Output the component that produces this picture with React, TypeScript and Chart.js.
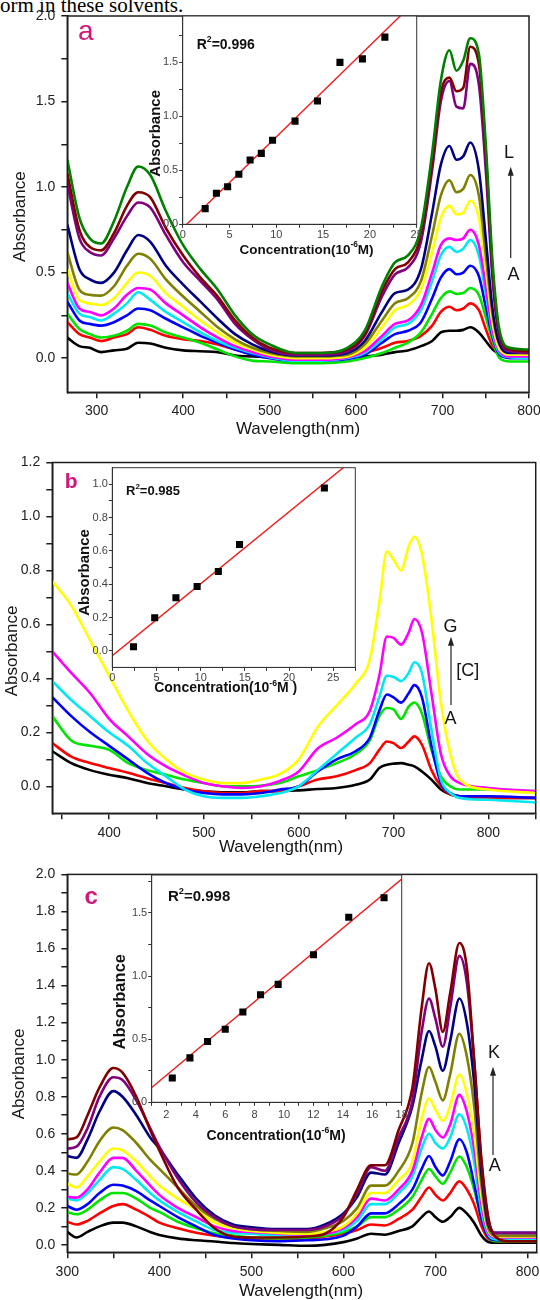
import React, { useEffect, useRef } from "react";
import { Chart, registerables } from "chart.js";

Chart.register(...registerables);

const FONT = "'Liberation Sans', Arial, Helvetica, sans-serif";
Chart.defaults.font.family = FONT;

// ---------------- Panel a : spectra (A..L) ----------------
const wlA = [266, 280, 292, 305, 320, 335, 348, 362, 380, 400, 420, 440, 460, 480, 500, 530, 560, 590, 610, 630, 645, 660, 675, 688, 698, 708, 716, 724, 732, 742, 750, 758, 766, 778, 800];
const a_A = [0.12, 0.07, 0.06, 0.035, 0.045, 0.055, 0.09, 0.085, 0.06, 0.045, 0.04, 0.035, 0.015, 0.01, 0.005, 0.0, 0.0, 0.005, 0.01, 0.02, 0.035, 0.045, 0.07, 0.1, 0.15, 0.16, 0.16, 0.165, 0.18, 0.15, 0.1, 0.05, 0.025, 0.015, 0.015];
const a_B = [0.21, 0.14, 0.12, 0.1, 0.12, 0.14, 0.18, 0.165, 0.13, 0.11, 0.1, 0.08, 0.05, 0.03, 0.015, 0.005, 0.005, 0.015, 0.03, 0.06, 0.09, 0.1, 0.13, 0.19, 0.27, 0.3, 0.28, 0.29, 0.32, 0.28, 0.17, 0.07, 0.03, 0.015, 0.01];
const a_C = [0.26, 0.17, 0.14, 0.12, 0.13, 0.16, 0.2, 0.19, 0.15, 0.12, 0.09, 0.05, 0.01, -0.015, -0.02, -0.03, -0.03, -0.02, 0.0, 0.03, 0.06, 0.09, 0.15, 0.26, 0.35, 0.39, 0.375, 0.38, 0.41, 0.37, 0.24, 0.1, 0.0, -0.02, -0.02];
const a_D = [0.33, 0.22, 0.2, 0.19, 0.21, 0.25, 0.29, 0.28, 0.23, 0.18, 0.13, 0.09, 0.05, 0.02, 0.0, -0.015, -0.015, -0.005, 0.02, 0.09, 0.14, 0.16, 0.21, 0.35, 0.47, 0.52, 0.49, 0.5, 0.54, 0.48, 0.3, 0.12, 0.02, 0.0, 0.0];
const a_E = [0.38, 0.26, 0.24, 0.22, 0.26, 0.32, 0.385, 0.34, 0.27, 0.21, 0.15, 0.1, 0.06, 0.03, 0.005, -0.015, -0.015, 0.0, 0.03, 0.11, 0.18, 0.2, 0.28, 0.45, 0.6, 0.65, 0.62, 0.64, 0.69, 0.6, 0.38, 0.14, 0.03, 0.005, 0.0];
const a_F = [0.44, 0.29, 0.27, 0.25, 0.29, 0.37, 0.41, 0.4, 0.32, 0.25, 0.18, 0.12, 0.07, 0.035, 0.01, -0.01, -0.01, 0.005, 0.04, 0.13, 0.2, 0.22, 0.31, 0.5, 0.66, 0.7, 0.69, 0.7, 0.75, 0.66, 0.42, 0.16, 0.04, 0.01, 0.01];
const a_G = [0.52, 0.34, 0.32, 0.31, 0.35, 0.44, 0.5, 0.48, 0.38, 0.3, 0.22, 0.15, 0.09, 0.05, 0.02, 0.0, 0.0, 0.01, 0.06, 0.18, 0.28, 0.31, 0.4, 0.62, 0.82, 0.89, 0.84, 0.85, 0.92, 0.82, 0.52, 0.2, 0.05, 0.02, 0.02];
const a_H = [0.62, 0.4, 0.37, 0.365, 0.42, 0.54, 0.61, 0.58, 0.46, 0.36, 0.27, 0.18, 0.11, 0.06, 0.03, 0.01, 0.01, 0.02, 0.08, 0.22, 0.32, 0.35, 0.45, 0.72, 0.95, 1.04, 0.97, 0.99, 1.07, 0.95, 0.6, 0.25, 0.08, 0.05, 0.04];
const a_I = [0.78, 0.52, 0.46, 0.44, 0.5, 0.63, 0.72, 0.68, 0.54, 0.43, 0.33, 0.23, 0.14, 0.08, 0.04, 0.015, 0.015, 0.03, 0.1, 0.27, 0.38, 0.4, 0.52, 0.85, 1.13, 1.24, 1.16, 1.18, 1.26, 1.1, 0.7, 0.28, 0.08, 0.03, 0.03];
const a_J = [1.02, 0.7, 0.62, 0.6, 0.7, 0.83, 0.91, 0.88, 0.72, 0.56, 0.45, 0.34, 0.2, 0.11, 0.05, 0.02, 0.02, 0.04, 0.13, 0.36, 0.49, 0.53, 0.68, 1.1, 1.5, 1.62, 1.47, 1.46, 1.72, 1.6, 1.1, 0.45, 0.12, 0.04, 0.03];
const a_K = [1.08, 0.75, 0.65, 0.63, 0.73, 0.89, 0.97, 0.94, 0.76, 0.6, 0.47, 0.36, 0.22, 0.12, 0.06, 0.03, 0.03, 0.05, 0.14, 0.39, 0.52, 0.56, 0.72, 1.15, 1.55, 1.64, 1.56, 1.58, 1.82, 1.72, 1.2, 0.5, 0.14, 0.05, 0.04];
const a_L = [1.16, 0.82, 0.7, 0.67, 0.8, 1.0, 1.12, 1.07, 0.86, 0.66, 0.52, 0.4, 0.25, 0.14, 0.08, 0.03, 0.03, 0.06, 0.16, 0.42, 0.56, 0.6, 0.76, 1.2, 1.62, 1.8, 1.68, 1.74, 1.87, 1.78, 1.25, 0.55, 0.16, 0.06, 0.05];

// ---------------- Panel b : spectra (A..G) ----------------
const wlB = [340, 360, 380, 400, 420, 440, 460, 480, 500, 520, 540, 560, 580, 600, 620, 640, 660, 675, 685, 693, 700, 708, 716, 722, 730, 740, 750, 760, 770, 800, 850];
const b_A = [0.13, 0.086, 0.06, 0.043, 0.03, 0.012, 0.0, -0.012, -0.018, -0.022, -0.022, -0.018, -0.018, -0.015, -0.01, -0.006, 0.006, 0.025, 0.068, 0.08, 0.084, 0.086, 0.08, 0.074, 0.055, 0.025, -0.012, -0.03, -0.037, -0.043, -0.043];
const b_B = [0.16, 0.11, 0.086, 0.068, 0.05, 0.03, 0.012, -0.006, -0.018, -0.025, -0.025, -0.018, -0.018, 0.0, 0.025, 0.037, 0.06, 0.086, 0.135, 0.166, 0.16, 0.142, 0.166, 0.185, 0.154, 0.06, 0.0, -0.03, -0.037, -0.043, -0.043];
const b_C = [0.26, 0.17, 0.15, 0.135, 0.086, 0.06, 0.043, 0.025, 0.012, 0.0, 0.0, 0.002, 0.012, 0.037, 0.06, 0.086, 0.12, 0.17, 0.26, 0.29, 0.285, 0.25, 0.295, 0.31, 0.27, 0.135, 0.037, 0.0, -0.012, -0.012, -0.018];
const b_D = [0.33, 0.26, 0.2, 0.15, 0.1, 0.05, 0.012, -0.012, -0.025, -0.03, -0.03, -0.025, -0.012, 0.0, 0.055, 0.1, 0.13, 0.18, 0.28, 0.34, 0.33, 0.31, 0.345, 0.375, 0.33, 0.15, 0.012, -0.025, -0.037, -0.037, -0.043];
const b_E = [0.39, 0.32, 0.26, 0.2, 0.15, 0.086, 0.037, -0.012, -0.037, -0.043, -0.043, -0.037, -0.025, 0.0, 0.06, 0.12, 0.18, 0.23, 0.33, 0.41, 0.405, 0.39, 0.42, 0.46, 0.42, 0.21, 0.025, -0.025, -0.043, -0.05, -0.06];
const b_F = [0.5, 0.42, 0.345, 0.25, 0.185, 0.12, 0.074, 0.04, 0.012, 0.0, -0.006, 0.0, 0.02, 0.055, 0.14, 0.18, 0.23, 0.28, 0.41, 0.555, 0.55, 0.525, 0.57, 0.62, 0.57, 0.345, 0.12, 0.037, 0.012, -0.006, -0.018];
const b_G = [0.76, 0.67, 0.54, 0.41, 0.28, 0.17, 0.1, 0.05, 0.025, 0.012, 0.012, 0.025, 0.045, 0.1, 0.22, 0.3, 0.38, 0.47, 0.68, 0.87, 0.84, 0.8, 0.89, 0.925, 0.86, 0.62, 0.31, 0.12, 0.025, -0.012, -0.025];

// ---------------- Panel c : spectra (A..K) ----------------
const wlC = [300, 310, 322, 335, 350, 360, 375, 390, 400, 420, 440, 460, 480, 500, 530, 560, 580, 600, 615, 630, 645, 660, 675, 685, 693, 700, 708, 716, 726, 734, 742, 750, 758, 766, 780, 810];
const c_A = [0.07, 0.04, 0.07, 0.1, 0.12, 0.12, 0.1, 0.07, 0.054, 0.035, 0.025, 0.018, 0.01, 0.005, 0.0, -0.005, 0.0, 0.015, 0.035, 0.06, 0.055, 0.075, 0.1, 0.15, 0.18, 0.15, 0.125, 0.15, 0.2, 0.17, 0.12, 0.05, 0.015, 0.012, 0.012, 0.012];
const c_B = [0.125, 0.11, 0.13, 0.17, 0.21, 0.22, 0.19, 0.15, 0.12, 0.09, 0.066, 0.05, 0.04, 0.035, 0.03, 0.03, 0.045, 0.06, 0.08, 0.11, 0.105, 0.14, 0.19, 0.26, 0.31, 0.27, 0.24, 0.28, 0.343, 0.3, 0.22, 0.1, 0.03, 0.02, 0.02, 0.02];
const c_C = [0.178, 0.165, 0.19, 0.24, 0.28, 0.28, 0.25, 0.2, 0.178, 0.125, 0.09, 0.063, 0.05, 0.04, 0.035, 0.04, 0.05, 0.07, 0.1, 0.15, 0.15, 0.19, 0.26, 0.35, 0.41, 0.37, 0.33, 0.39, 0.477, 0.42, 0.3, 0.14, 0.04, 0.02, 0.02, 0.02];
const c_D = [0.21, 0.19, 0.22, 0.28, 0.325, 0.32, 0.29, 0.24, 0.21, 0.15, 0.1, 0.053, 0.035, 0.025, 0.02, 0.025, 0.03, 0.05, 0.1, 0.17, 0.17, 0.22, 0.3, 0.41, 0.48, 0.42, 0.375, 0.45, 0.57, 0.5, 0.33, 0.14, 0.04, 0.025, 0.025, 0.025];
const c_E = [0.25, 0.24, 0.28, 0.35, 0.42, 0.41, 0.35, 0.28, 0.24, 0.178, 0.127, 0.08, 0.065, 0.06, 0.05, 0.05, 0.06, 0.08, 0.13, 0.22, 0.22, 0.28, 0.37, 0.52, 0.6, 0.55, 0.52, 0.58, 0.705, 0.63, 0.45, 0.18, 0.05, 0.03, 0.03, 0.03];
const c_F = [0.26, 0.255, 0.3, 0.39, 0.47, 0.47, 0.4, 0.32, 0.27, 0.2, 0.15, 0.1, 0.075, 0.07, 0.06, 0.055, 0.06, 0.09, 0.15, 0.25, 0.24, 0.3, 0.4, 0.58, 0.68, 0.62, 0.58, 0.65, 0.81, 0.72, 0.52, 0.22, 0.06, 0.04, 0.04, 0.04];
const c_G = [0.33, 0.31, 0.37, 0.45, 0.52, 0.51, 0.45, 0.37, 0.32, 0.25, 0.19, 0.12, 0.09, 0.075, 0.065, 0.06, 0.07, 0.1, 0.17, 0.28, 0.28, 0.35, 0.45, 0.68, 0.79, 0.73, 0.67, 0.75, 0.92, 0.82, 0.6, 0.26, 0.07, 0.045, 0.045, 0.045];
const c_H = [0.385, 0.38, 0.45, 0.56, 0.634, 0.62, 0.55, 0.46, 0.41, 0.31, 0.21, 0.14, 0.1, 0.085, 0.075, 0.07, 0.09, 0.13, 0.2, 0.32, 0.32, 0.4, 0.55, 0.82, 0.96, 0.88, 0.78, 0.92, 1.14, 1.02, 0.75, 0.32, 0.08, 0.05, 0.05, 0.05];
const c_I = [0.48, 0.47, 0.57, 0.72, 0.83, 0.8, 0.7, 0.58, 0.52, 0.38, 0.25, 0.16, 0.11, 0.095, 0.085, 0.085, 0.11, 0.17, 0.26, 0.39, 0.38, 0.55, 0.75, 1.0, 1.155, 1.07, 0.94, 1.1, 1.33, 1.2, 0.88, 0.38, 0.1, 0.065, 0.065, 0.065];
const c_J = [0.52, 0.53, 0.63, 0.8, 0.905, 0.89, 0.78, 0.63, 0.53, 0.36, 0.23, 0.15, 0.1, 0.085, 0.08, 0.08, 0.1, 0.16, 0.28, 0.42, 0.4, 0.58, 0.78, 1.15, 1.33, 1.22, 1.07, 1.28, 1.56, 1.42, 1.0, 0.44, 0.12, 0.065, 0.065, 0.065];
const c_K = [0.57, 0.58, 0.7, 0.85, 0.955, 0.93, 0.8, 0.62, 0.51, 0.31, 0.19, 0.09, 0.045, 0.04, 0.04, 0.045, 0.06, 0.15, 0.3, 0.43, 0.43, 0.62, 0.85, 1.28, 1.52, 1.38, 1.15, 1.36, 1.63, 1.5, 1.0, 0.46, 0.134, 0.04, 0.02, 0.02];

// ---------------- Insets : calibration points & fit ----------------
const concA = [2.4, 3.6, 4.8, 6.0, 7.2, 8.4, 9.6, 12.0, 14.4, 16.8, 19.2, 21.6];
const absA = [0.145, 0.287, 0.348, 0.463, 0.595, 0.657, 0.778, 0.956, 1.142, 1.5, 1.533, 1.734];
const fitA = { slope: 0.0846, intercept: -0.036, r2: "0.996" };

const concB = [2.4, 4.8, 7.2, 9.6, 12.0, 14.4, 24.0];
const absB = [0.024, 0.198, 0.318, 0.386, 0.476, 0.638, 0.978];
const fitB = { slope: 0.0432, intercept: -0.029, r2: "0.985" };

const concC = [2.4, 3.6, 4.8, 6.0, 7.2, 8.4, 9.6, 12.0, 14.4, 16.8];
const absC = [0.192, 0.352, 0.481, 0.579, 0.715, 0.852, 0.934, 1.168, 1.465, 1.62];
const fitC = { slope: 0.0971, intercept: 0.0195, r2: "0.998" };

// ---------------- Tick values / labels ----------------
const xTicksA = [300, 350, 400, 450, 500, 550, 600, 650, 700, 750, 800];
const xLabelsA = [300, 400, 500, 600, 700, 800];
const yTicksA = [0, 0.25, 0.5, 0.75, 1.0, 1.25, 1.5, 1.75, 2.0];
const yLabelsA = [0, 0.5, 1.0, 1.5, 2.0];

const xTicksB = [350, 400, 450, 500, 550, 600, 650, 700, 750, 800, 850];
const xLabelsB = [400, 500, 600, 700, 800];
const yTicksB = [0, 0.1, 0.2, 0.3, 0.4, 0.5, 0.6, 0.7, 0.8, 0.9, 1.0, 1.1, 1.2];
const yLabelsB = [0, 0.2, 0.4, 0.6, 0.8, 1.0, 1.2];

const xTicksC = [300, 350, 400, 450, 500, 550, 600, 650, 700, 750, 800];
const xLabelsC = [300, 400, 500, 600, 700, 800];
const yTicksC = [0, 0.1, 0.2, 0.3, 0.4, 0.5, 0.6, 0.7, 0.8, 0.9, 1.0, 1.1, 1.2, 1.3, 1.4, 1.5, 1.6, 1.7, 1.8, 1.9, 2.0];
const yLabelsC = [0, 0.2, 0.4, 0.6, 0.8, 1.0, 1.2, 1.4, 1.6, 1.8, 2.0];

const ixTicksA = [0, 2.5, 5, 7.5, 10, 12.5, 15, 17.5, 20, 22.5, 25];
const ixLabelsA = [0, 5, 10, 15, 20, 25];
const iyTicksA = [0, 0.25, 0.5, 0.75, 1.0, 1.25, 1.5, 1.75];
const iyLabelsA = [0, 0.5, 1.0, 1.5];

const ixTicksB = [0, 2.5, 5, 7.5, 10, 12.5, 15, 17.5, 20, 22.5, 25, 27.5];
const ixLabelsB = [0, 5, 10, 15, 20, 25];
const iyTicksB = [0, 0.1, 0.2, 0.3, 0.4, 0.5, 0.6, 0.7, 0.8, 0.9, 1.0];
const iyLabelsB = [0, 0.2, 0.4, 0.6, 0.8, 1.0];

const ixTicksC = [1, 2, 3, 4, 5, 6, 7, 8, 9, 10, 11, 12, 13, 14, 15, 16, 17, 18];
const ixLabelsC = [2, 4, 6, 8, 10, 12, 14, 16, 18];
const iyTicksC = [0, 0.25, 0.5, 0.75, 1.0, 1.25, 1.5, 1.75];
const iyLabelsC = [0, 0.5, 1.0, 1.5];

const SPEC_COLORS = ["#000000", "#ff0000", "#00e400", "#0000ff", "#00e8f0", "#ff00ff", "#ffff00", "#808000", "#000080", "#800080", "#800000", "#008000"];
const MAGENTA = "#d2177a";

// ---------------- helpers ----------------
type Seg = { t: string; sup?: boolean };
type Txt = { segs: Seg[]; x: number; y: number; size: number; bold?: boolean; color?: string; align?: "left" | "center"; rotate?: boolean; base?: CanvasTextBaseline };
type Arrow = { x: number; y1: number; y2: number };
type Rect = { left: number; top: number; w: number; h: number };
type Area = { left: number; top: number; right: number; bottom: number };
type AxisSpec = { min: number; max: number; ticks: number[]; labels: number[]; digits: number };
type AxisStyle = { size: number; color: string; line: string; lw: number; tl: number; pad: number };

const Y_W = 40;
const X_H = 30;

function makeLayout(c: Rect, a: Area) {
  return {
    padding: {
      left: a.left - c.left - Y_W,
      top: a.top - c.top,
      right: c.left + c.w - a.right,
      bottom: c.top + c.h - a.bottom - X_H,
    },
  };
}

function axis(spec: AxisSpec, horizontal: boolean, st: AxisStyle) {
  return {
    type: "linear",
    min: spec.min,
    max: spec.max,
    afterBuildTicks: (s: any) => {
      s.ticks = spec.ticks.map((v) => ({ value: v }));
    },
    afterFit: (s: any) => {
      if (horizontal) s.height = X_H;
      else s.width = Y_W;
    },
    ticks: {
      autoSkip: false,
      maxRotation: 0,
      minRotation: 0,
      padding: st.pad,
      color: st.color,
      font: { size: st.size, family: FONT },
      callback: (v: number) => (spec.labels.some((l) => Math.abs(l - v) < 1e-9) ? Number(v).toFixed(spec.digits) : ""),
    },
    grid: { display: true, drawOnChartArea: false, drawTicks: true, tickLength: st.tl, color: st.line, lineWidth: st.lw },
    border: { display: true, color: st.line, width: st.lw },
  };
}

function drawTxt(ctx: CanvasRenderingContext2D, t: Txt, ox: number, oy: number) {
  const weight = t.bold ? "bold " : "";
  const supSize = t.size * 0.62;
  const widths: number[] = [];
  let total = 0;
  t.segs.forEach((s) => {
    ctx.font = `${weight}${s.sup ? supSize : t.size}px ${FONT}`;
    const w = ctx.measureText(s.t).width;
    widths.push(w);
    total += w;
  });
  ctx.save();
  ctx.translate(t.x - ox, t.y - oy);
  if (t.rotate) ctx.rotate(-Math.PI / 2);
  ctx.fillStyle = t.color || "#151515";
  ctx.textBaseline = t.base || "middle";
  ctx.textAlign = "left";
  let x = t.align === "left" ? 0 : -total / 2;
  t.segs.forEach((s, i) => {
    ctx.font = `${weight}${s.sup ? supSize : t.size}px ${FONT}`;
    ctx.fillText(s.t, x, s.sup ? -t.size * 0.36 : 0);
    x += widths[i];
  });
  ctx.restore();
}

function drawArrow(ctx: CanvasRenderingContext2D, a: Arrow, ox: number, oy: number) {
  const x = a.x - ox;
  const y1 = a.y1 - oy;
  const y2 = a.y2 - oy;
  ctx.save();
  ctx.strokeStyle = "#222";
  ctx.fillStyle = "#222";
  ctx.lineWidth = 1.2;
  ctx.beginPath();
  ctx.moveTo(x, y1);
  ctx.lineTo(x, y2 + 6);
  ctx.stroke();
  ctx.beginPath();
  ctx.moveTo(x, y2);
  ctx.lineTo(x - 3, y2 + 9);
  ctx.lineTo(x + 3, y2 + 9);
  ctx.closePath();
  ctx.fill();
  ctx.restore();
}

function deco(o: { rect: Rect; frame: { color: string; width: number }; fill?: boolean; texts: Txt[]; arrows?: Arrow[] }) {
  return {
    id: "deco",
    beforeDraw(chart: any) {
      if (!o.fill) return;
      const { left, top, right, bottom } = chart.chartArea;
      const ctx = chart.ctx;
      ctx.save();
      ctx.fillStyle = "#ffffff";
      ctx.fillRect(left, top, right - left, bottom - top);
      ctx.restore();
    },
    afterDraw(chart: any) {
      const ctx = chart.ctx as CanvasRenderingContext2D;
      const { left, top, right, bottom } = chart.chartArea;
      ctx.save();
      ctx.strokeStyle = o.frame.color;
      ctx.lineWidth = o.frame.width;
      ctx.strokeRect(left, top, right - left, bottom - top);
      ctx.restore();
      o.texts.forEach((t) => drawTxt(ctx, t, o.rect.left, o.rect.top));
      (o.arrows || []).forEach((a) => drawArrow(ctx, a, o.rect.left, o.rect.top));
    },
  };
}

const MAIN_X = (pad: number): AxisStyle => ({ size: 14, color: "#222", line: "#1e1e1e", lw: 1.5, tl: 6, pad });
const MAIN_Y: AxisStyle = { size: 14, color: "#222", line: "#1e1e1e", lw: 1.5, tl: 6, pad: 6 };
const INSET = (pad: number): AxisStyle => ({ size: 11, color: "#444", line: "#333", lw: 1, tl: 3.5, pad });

type SpectraPanel = {
  rect: Rect;
  area: Area;
  wl: number[];
  series: number[][];
  x: AxisSpec;
  y: AxisSpec;
  xPad: number;
  texts: Txt[];
  arrows: Arrow[];
};

function spectraConfig(p: SpectraPanel): any {
  return {
    type: "line",
    data: {
      datasets: p.series.map((vals, i) => ({
        data: p.wl.map((x, j) => ({ x, y: vals[j] })),
        borderColor: SPEC_COLORS[i],
        borderWidth: 2.6,
        pointRadius: 0,
        cubicInterpolationMode: "monotone",
        fill: false,
        order: p.series.length - i,
      })),
    },
    options: {
      responsive: false,
      animation: false,
      devicePixelRatio: 1,
      events: [],
      layout: makeLayout(p.rect, p.area),
      plugins: { legend: { display: false }, tooltip: { enabled: false } },
      scales: { x: axis(p.x, true, MAIN_X(p.xPad)), y: axis(p.y, false, MAIN_Y) },
    },
    plugins: [deco({ rect: p.rect, frame: { color: "#1e1e1e", width: 1.5 }, texts: p.texts, arrows: p.arrows })],
  };
}

type InsetPanel = {
  rect: Rect;
  area: Area;
  conc: number[];
  abs: number[];
  fit: { slope: number; intercept: number };
  x: AxisSpec;
  y: AxisSpec;
  xPad: number;
  texts: Txt[];
};

function insetConfig(p: InsetPanel): any {
  const fitLine = [p.x.min, p.x.max].map((x) => ({ x, y: p.fit.intercept + p.fit.slope * x }));
  return {
    type: "scatter",
    data: {
      datasets: [
        {
          data: p.conc.map((x, i) => ({ x, y: p.abs[i] })),
          pointStyle: "rect",
          pointRadius: 5,
          backgroundColor: "#000",
          borderColor: "#000",
          borderWidth: 0,
          order: 0,
        },
        {
          data: fitLine,
          showLine: true,
          borderColor: "#ee1c1c",
          borderWidth: 1.4,
          pointRadius: 0,
          order: 1,
        },
      ],
    },
    options: {
      responsive: false,
      animation: false,
      devicePixelRatio: 1,
      events: [],
      layout: makeLayout(p.rect, p.area),
      plugins: { legend: { display: false }, tooltip: { enabled: false } },
      scales: { x: axis(p.x, true, INSET(p.xPad)), y: axis(p.y, false, INSET(1)) },
    },
    plugins: [deco({ rect: p.rect, frame: { color: "#333", width: 1 }, fill: true, texts: p.texts })],
  };
}

const txt = (t: string, x: number, y: number, size: number, extra: Partial<Txt> = {}): Txt => ({ segs: [{ t }], x, y, size, ...extra });
const r2Txt = (r2: string, x: number, y: number, size: number): Txt => ({
  segs: [{ t: "R" }, { t: "2", sup: true }, { t: "=" + r2 }],
  x,
  y,
  size,
  bold: true,
  align: "left",
  color: "#111",
});
const concTxt = (x: number, y: number, size: number, tail: string): Txt => ({
  segs: [{ t: "Concentration(10" }, { t: "-6", sup: true }, { t: tail }],
  x,
  y,
  size,
  bold: true,
  color: "#111",
});

// ---------------- panel definitions ----------------
const panelA: SpectraPanel = {
  rect: { left: 0, top: 0, w: 570, h: 440 },
  area: { left: 67.3, top: 16, right: 529, bottom: 392.3 },
  wl: wlA,
  series: [a_A, a_B, a_C, a_D, a_E, a_F, a_G, a_H, a_I, a_J, a_K, a_L],
  x: { min: 266, max: 800, ticks: xTicksA, labels: xLabelsA, digits: 0 },
  y: { min: -0.2, max: 2.0, ticks: yTicksA, labels: yLabelsA, digits: 1 },
  xPad: 4,
  texts: [
    txt("a", 85.8, 40, 28, { color: MAGENTA, base: "alphabetic" }),
    txt("Wavelength(nm)", 298, 429.3, 17),
    txt("Absorbance", 20.7, 216.7, 17, { rotate: true }),
    txt("L", 509, 153.3, 18),
    txt("A", 513.5, 275.3, 18),
  ],
  arrows: [{ x: 510.7, y1: 258, y2: 166.7 }],
};

const panelB: SpectraPanel = {
  rect: { left: 0, top: 440, w: 570, h: 420 },
  area: { left: 52.3, top: 462.5, right: 535.7, bottom: 813.3 },
  wl: wlB,
  series: [b_A, b_B, b_C, b_D, b_E, b_F, b_G],
  x: { min: 340, max: 850, ticks: xTicksB, labels: xLabelsB, digits: 0 },
  y: { min: -0.1, max: 1.2, ticks: yTicksB, labels: yLabelsB, digits: 1 },
  xPad: 5,
  texts: [
    txt("b", 71.2, 488.3, 21, { color: MAGENTA, bold: true, base: "alphabetic" }),
    txt("Wavelength(nm)", 281, 847.3, 17),
    txt("Absorbance", 12.5, 651, 17, { rotate: true }),
    txt("G", 450.4, 627.3, 18),
    txt("[C]", 467.8, 670.7, 18),
    txt("A", 450.4, 719.3, 18),
  ],
  arrows: [{ x: 451, y1: 705, y2: 636.7 }],
};

const panelC: SpectraPanel = {
  rect: { left: 0, top: 860, w: 570, h: 440 },
  area: { left: 67.3, top: 872.5, right: 536.7, bottom: 1252.3 },
  wl: wlC,
  series: [c_A, c_B, c_C, c_D, c_E, c_F, c_G, c_H, c_I, c_J, c_K],
  x: { min: 300, max: 810, ticks: xTicksC, labels: xLabelsC, digits: 0 },
  y: { min: -0.04, max: 2.0, ticks: yTicksC, labels: yLabelsC, digits: 1 },
  xPad: 5,
  texts: [
    txt("c", 91.2, 904.3, 24, { color: MAGENTA, bold: true, base: "alphabetic" }),
    txt("Wavelength(nm)", 301, 1291.7, 17),
    txt("Absorbance", 19, 1074, 17, { rotate: true }),
    txt("K", 494, 1053.3, 18),
    txt("A", 494.8, 1166, 18),
  ],
  arrows: [{ x: 493, y1: 1155, y2: 1066.7 }],
};

const insetA: InsetPanel = {
  rect: { left: 110, top: 0, w: 340, h: 270 },
  area: { left: 182.7, top: 16, right: 416.7, bottom: 224.3 },
  conc: concA,
  abs: absA,
  fit: fitA,
  x: { min: 0, max: 25, ticks: ixTicksA, labels: ixLabelsA, digits: 0 },
  y: { min: 0, max: 1.93, ticks: iyTicksA, labels: iyLabelsA, digits: 1 },
  xPad: 0.5,
  texts: [
    r2Txt(fitA.r2, 196.7, 45, 14),
    txt("Absorbance", 156, 133.3, 15, { rotate: true, bold: true, color: "#111" }),
    concTxt(306.5, 250, 13.5, "M)"),
  ],
};

const insetB: InsetPanel = {
  rect: { left: 50, top: 455, w: 340, h: 245 },
  area: { left: 112.3, top: 467.7, right: 355.3, bottom: 667.4 },
  conc: concB,
  abs: absB,
  fit: fitB,
  x: { min: 0, max: 27.5, ticks: ixTicksB, labels: ixLabelsB, digits: 0 },
  y: { min: -0.1, max: 1.1, ticks: iyTicksB, labels: iyLabelsB, digits: 1 },
  xPad: 0.5,
  texts: [
    r2Txt(fitB.r2, 126, 491.7, 13),
    txt("Absorbance", 84.4, 572.5, 15, { rotate: true, bold: true, color: "#111" }),
    concTxt(225.7, 688.3, 14, "M )"),
  ],
};

const insetC: InsetPanel = {
  rect: { left: 90, top: 865, w: 340, h: 290 },
  area: { left: 151.7, top: 875, right: 401.7, bottom: 1102.3 },
  conc: concC,
  abs: absC,
  fit: fitC,
  x: { min: 1, max: 18, ticks: ixTicksC, labels: ixLabelsC, digits: 0 },
  y: { min: 0, max: 1.8, ticks: iyTicksC, labels: iyLabelsC, digits: 1 },
  xPad: 2.8,
  texts: [
    r2Txt(fitC.r2, 168, 896.7, 15),
    txt("Absorbance", 120.5, 1001.7, 16.5, { rotate: true, bold: true, color: "#111" }),
    concTxt(276, 1136, 14, "M)"),
  ],
};

function ChartBox({ rect, make }: { rect: Rect; make: () => any }) {
  const ref = useRef<HTMLCanvasElement>(null);
  useEffect(() => {
    const chart = new Chart(ref.current as HTMLCanvasElement, make());
    return () => chart.destroy();
  }, []);
  return (
    <canvas
      ref={ref}
      width={rect.w}
      height={rect.h}
      style={{ position: "absolute", left: rect.left, top: rect.top, width: rect.w, height: rect.h }}
    />
  );
}

export default function App() {
  return (
    <div style={{ position: "absolute", left: 0, top: 0, width: 540, height: 1300, overflow: "hidden", background: "#fff" }}>
      <div
        style={{
          position: "absolute",
          left: 0,
          top: -5,
          font: "21px 'Liberation Serif', 'Times New Roman', serif",
          lineHeight: "21px",
          whiteSpace: "nowrap",
          color: "#000",
        }}
      >
        orm in these solvents.
      </div>
      <ChartBox rect={panelA.rect} make={() => spectraConfig(panelA)} />
      <ChartBox rect={panelB.rect} make={() => spectraConfig(panelB)} />
      <ChartBox rect={panelC.rect} make={() => spectraConfig(panelC)} />
      <ChartBox rect={insetA.rect} make={() => insetConfig(insetA)} />
      <ChartBox rect={insetB.rect} make={() => insetConfig(insetB)} />
      <ChartBox rect={insetC.rect} make={() => insetConfig(insetC)} />
    </div>
  );
}
